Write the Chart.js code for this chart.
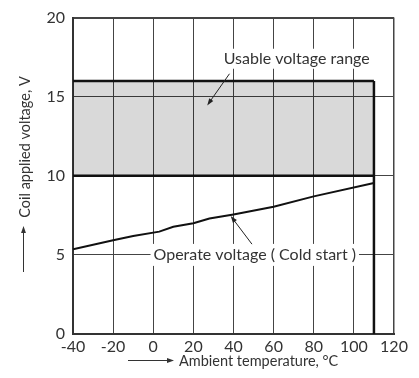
<!DOCTYPE html>
<html>
<head>
<meta charset="utf-8">
<script src="https://cdn.jsdelivr.net/npm/chart.js@4.4.1/dist/chart.umd.min.js"></script>
<style>
  html, body { margin: 0; padding: 0; background: #fff; }
  #wrap { width: 419px; height: 378px; position: relative; }
</style>
</head>
<body>
<div id="wrap"><canvas id="c"></canvas></div>
<script>
// Operate voltage (cold start) versus ambient temperature
const ambientTemp = [-40, -20, -10, 3, 10, 20, 28, 40, 60, 80, 110];
const operateVoltage = [5.35, 5.93, 6.2, 6.47, 6.78, 7.0, 7.3, 7.56, 8.05, 8.7, 9.55];

// Usable voltage range band
const rangeTemp = [-40, 110];
const rangeUpper = [16, 16];
const rangeLower = [10, 10];
const maxTemp = 110;

// Axis ticks
const xTickValues = [-40, -20, 0, 20, 40, 60, 80, 100, 120];
const yTickValues = [0, 5, 10, 15, 20];

const xTitle = 'Ambient temperature, °C';
const yTitle = 'Coil applied voltage, V';
const rangeLabel = 'Usable voltage range';
const operateLabel = 'Operate voltage ( Cold start )';

const FONT = 'Lato, "Open Sans", sans-serif';
const TEXT = '#333';

const pts = (xs, ys) => xs.map((x, i) => ({ x, y: ys[i] }));

function arrow(ctx, x1, y1, x2, y2, head) {
  const a = Math.atan2(y2 - y1, x2 - x1);
  ctx.beginPath();
  ctx.moveTo(x1, y1);
  ctx.lineTo(x2 - Math.cos(a) * head * 0.6, y2 - Math.sin(a) * head * 0.6);
  ctx.stroke();
  ctx.beginPath();
  ctx.moveTo(x2, y2);
  ctx.lineTo(x2 - head * Math.cos(a) + head * 0.35 * Math.sin(a), y2 - head * Math.sin(a) - head * 0.35 * Math.cos(a));
  ctx.lineTo(x2 - head * Math.cos(a) - head * 0.35 * Math.sin(a), y2 - head * Math.sin(a) + head * 0.35 * Math.cos(a));
  ctx.closePath();
  ctx.fill();
}

function boxedLabel(ctx, text, cx, cy, padX, h) {
  ctx.font = '16px ' + FONT;
  const w = ctx.measureText(text).width;
  ctx.fillStyle = '#fff';
  ctx.fillRect(cx - w / 2 - padX, cy - h / 2, w + padX * 2, h);
  ctx.fillStyle = TEXT;
  ctx.textAlign = 'center';
  ctx.textBaseline = 'middle';
  ctx.fillText(text, cx, cy);
}

const annotations = {
  id: 'annotations',
  afterDatasetsDraw(chart) {
    const { ctx, scales: { x, y } } = chart;
    ctx.save();
    ctx.strokeStyle = '#222';
    ctx.fillStyle = '#222';
    ctx.lineWidth = 1;

    // band label and its pointer
    boxedLabel(ctx, rangeLabel, x.getPixelForValue(71.5), y.getPixelForValue(17.4), 2, 20);
    ctx.strokeStyle = '#222'; ctx.fillStyle = '#222';
    arrow(ctx, x.getPixelForValue(38), y.getPixelForValue(16.45),
               x.getPixelForValue(26.9), y.getPixelForValue(14.45), 7);

    // curve label and its pointer
    boxedLabel(ctx, operateLabel, x.getPixelForValue(50.6), y.getPixelForValue(5), 3, 22);
    ctx.strokeStyle = '#222'; ctx.fillStyle = '#222';
    arrow(ctx, x.getPixelForValue(49.2), y.getPixelForValue(5.68),
               x.getPixelForValue(38.6), y.getPixelForValue(7.46), 7);

    // axis titles with direction arrows
    ctx.font = '14.5px ' + FONT;
    ctx.fillStyle = TEXT;
    ctx.textBaseline = 'middle';
    ctx.textAlign = 'left';
    ctx.fillText(xTitle, 179, 361);
    ctx.strokeStyle = '#333'; ctx.fillStyle = '#333';
    arrow(ctx, 128, 360.5, 174, 360.5, 7);

    ctx.save();
    ctx.translate(25, 147);
    ctx.rotate(-Math.PI / 2);
    ctx.fillStyle = TEXT;
    ctx.textAlign = 'center';
    ctx.fillText(yTitle, 0, 0);
    ctx.restore();
    ctx.strokeStyle = '#333'; ctx.fillStyle = '#333';
    arrow(ctx, 23.5, 272, 23.5, 226, 7);
    ctx.restore();
  }
};

new Chart(document.getElementById('c'), {
  type: 'scatter',
  data: {
    datasets: [
      {
        data: pts(rangeTemp, rangeUpper),
        showLine: true,
        borderColor: '#111',
        borderWidth: 2.5,
        backgroundColor: 'rgba(0,0,0,0.15)',
        fill: { value: 10 },
        pointRadius: 0
      },
      {
        data: pts(rangeTemp, rangeLower),
        showLine: true,
        borderColor: '#111',
        borderWidth: 2.5,
        pointRadius: 0
      },
      {
        data: [{ x: maxTemp, y: rangeUpper[1] }, { x: maxTemp, y: 0 }],
        showLine: true,
        borderColor: '#111',
        borderWidth: 2.5,
        pointRadius: 0
      },
      {
        data: pts(ambientTemp, operateVoltage),
        showLine: true,
        borderColor: '#111',
        borderWidth: 2,
        pointRadius: 0,
        tension: 0
      }
    ]
  },
  options: {
    responsive: true,
    maintainAspectRatio: false,
    animation: false,
    layout: { padding: { left: 0, right: 25, top: 13, bottom: 0 } },
    plugins: { legend: { display: false }, tooltip: { enabled: false } },
    scales: {
      x: {
        type: 'linear',
        min: -40, max: 120,
        afterBuildTicks: s => { s.ticks = xTickValues.map(v => ({ value: v })); },
        afterFit: s => { s.height = 44; },
        ticks: { color: TEXT, font: { family: FONT, size: 16 }, padding: 3, maxRotation: 0 },
        grid: {
          color: '#444',
          lineWidth: c => (c.tick && c.tick.value === 120 ? 1.5 : 1),
          drawTicks: false
        },
        border: { display: true, color: '#333', width: 2 }
      },
      y: {
        min: 0, max: 20,
        afterBuildTicks: s => { s.ticks = yTickValues.map(v => ({ value: v })); },
        afterFit: s => { s.width = 73; },
        ticks: { color: TEXT, font: { family: FONT, size: 16 }, padding: 8 },
        grid: {
          color: '#444',
          lineWidth: c => (c.tick && c.tick.value === 20 ? 2 : 1),
          drawTicks: false
        },
        border: { display: true, color: '#333', width: 2 }
      }
    }
  },
  plugins: [annotations]
});
</script>
</body>
</html>
